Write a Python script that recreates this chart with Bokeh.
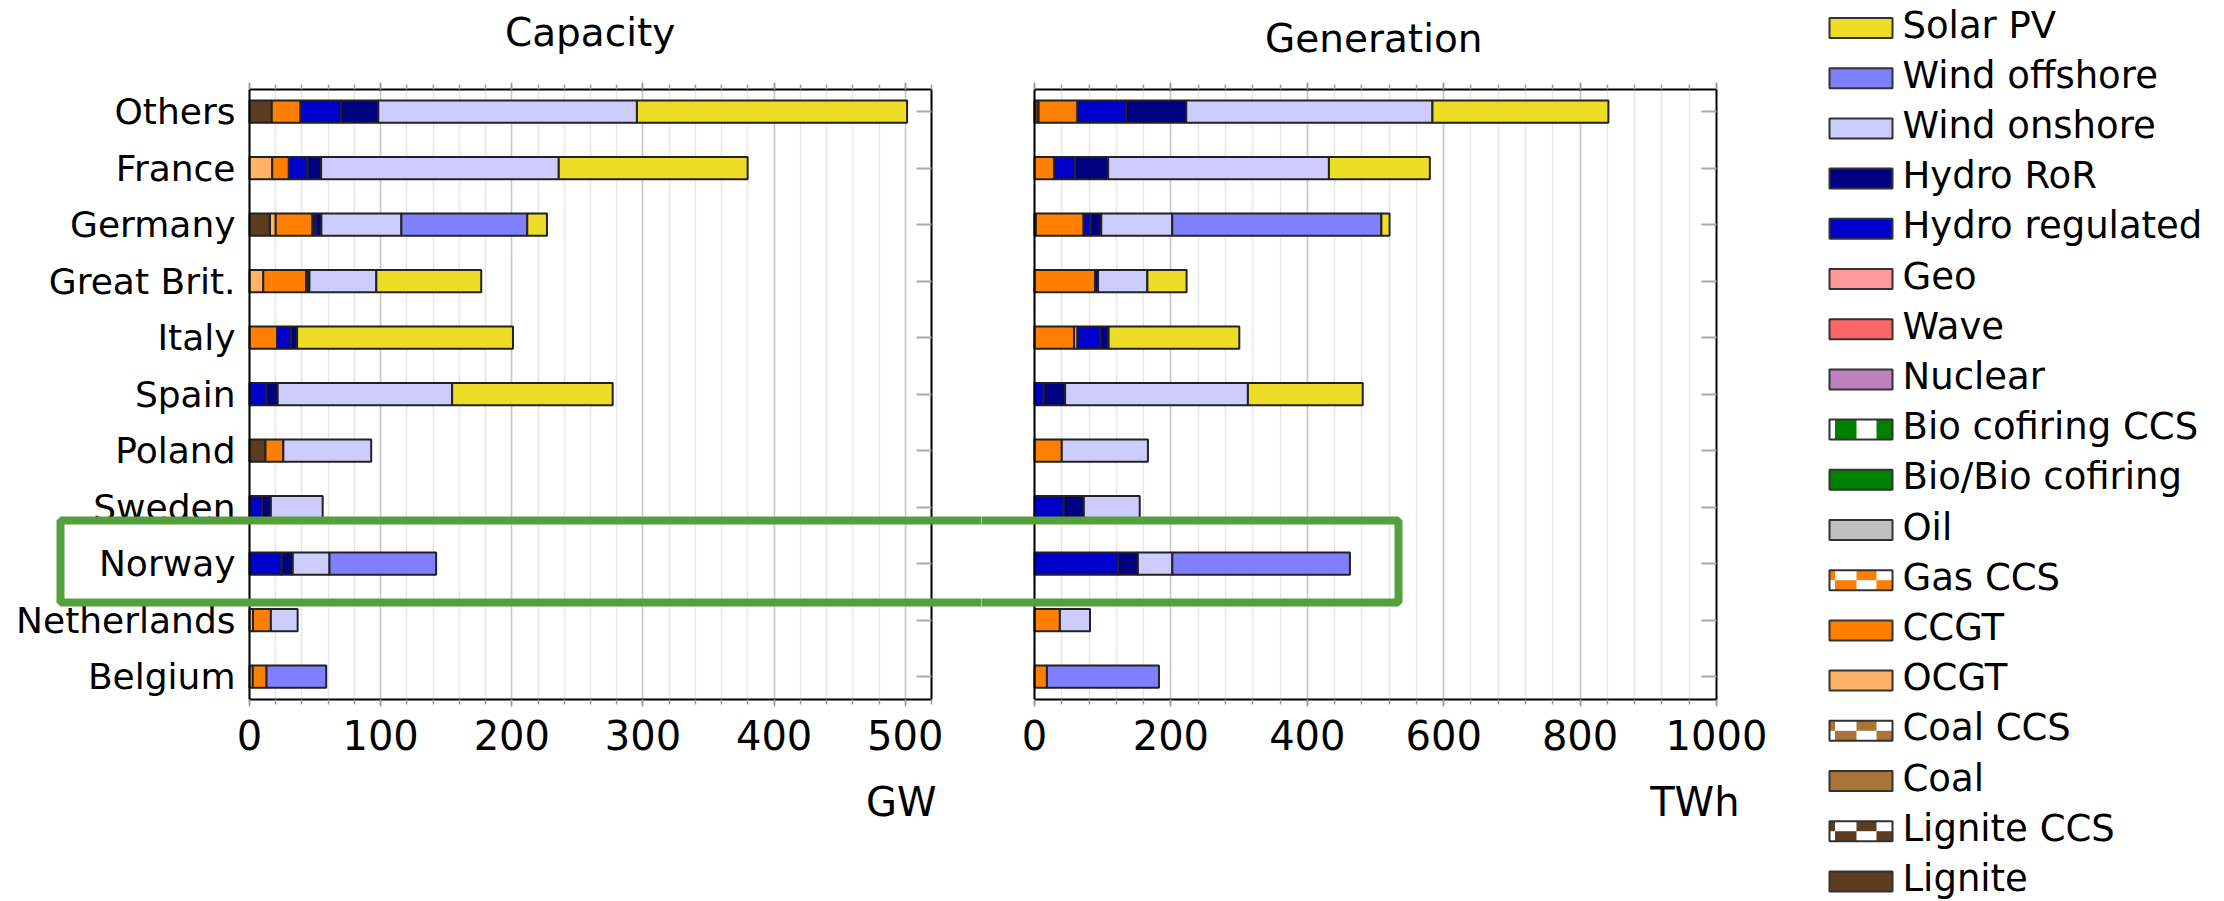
import numpy as np
from bokeh.plotting import figure
from bokeh.models import (ColumnDataSource, Range1d, FixedTicker, SingleIntervalTicker,
                          LinearAxis, BoxAnnotation, Title, Span)
from bokeh.layouts import row
from bokeh.embed import file_html
from bokeh.resources import INLINE
from bokeh.core.properties import value

# ---------------- data ----------------
countries = ["Others", "France", "Germany", "Great Brit.", "Italy", "Spain",
             "Poland", "Sweden", "Norway", "Netherlands", "Belgium"]

legend_techs = ["Solar PV", "Wind offshore", "Wind onshore", "Hydro RoR", "Hydro regulated",
                "Geo", "Wave", "Nuclear", "Bio cofiring CCS", "Bio/Bio cofiring", "Oil",
                "Gas CCS", "CCGT", "OCGT", "Coal CCS", "Coal", "Lignite CCS", "Lignite"]
legend_colors = ["#EEDD27", "#8080FF", "#CCCCFF", "#000080", "#0000CC",
                 "#FF9999", "#FF6666", "#BF80BF", "#008000", "#008000", "#C0C0C0",
                 "#FF8000", "#FF8000", "#FFB366", "#AA7339", "#AA7339", "#5C3D1F", "#5C3D1F"]
patterned = ["Bio cofiring CCS", "Gas CCS", "Coal CCS", "Lignite CCS"]

# Capacity (GW), countries order as above
cap_lignite = [17.0, 0, 15.6, 0, 0, 0, 12.2, 0, 0, 0, 0]
cap_ocgt = [0, 17.3, 4.4, 10.5, 0, 0, 0, 0, 0, 2.7, 2.5]
cap_ccgt = [21.9, 12.7, 28.0, 32.7, 21.0, 0, 13.6, 0, 0, 13.6, 10.5]
cap_hydro_reg = [30.8, 14.2, 2.4, 1.0, 10.5, 13.0, 0, 9.5, 24.5, 0, 0]
cap_hydro_ror = [28.5, 10.4, 4.4, 1.5, 4.8, 8.5, 0, 6.8, 8.5, 0, 0]
cap_wind_on = [197.2, 181.2, 61.0, 51.0, 0, 133.0, 67.0, 39.5, 28.0, 20.4, 0]
cap_wind_off = [0, 0, 96.0, 0, 0, 0, 0, 0, 81.3, 0, 45.5]
cap_solar = [206.0, 144.0, 15.0, 80.0, 164.6, 122.4, 0, 0, 0, 0, 0]

# Generation (TWh)
gen_lignite = [6.0, 0, 2.0, 0, 0, 0, 0, 0, 0, 0, 0]
gen_ccgt = [57.0, 28.8, 70.0, 89.0, 58.0, 0, 40.0, 0, 0, 37.2, 18.2]
gen_geo = [0, 0, 0, 0, 5.0, 0, 0, 0, 0, 0, 0]
gen_hydro_reg = [71.0, 30.8, 10.5, 0, 33.7, 13.3, 0, 42.8, 122.8, 0, 0]
gen_hydro_ror = [88.5, 48.4, 15.4, 4.2, 12.0, 31.6, 0, 29.5, 28.8, 0, 0]
gen_wind_on = [361.0, 323.7, 104.0, 72.3, 0, 268.0, 126.3, 82.0, 50.5, 44.2, 0]
gen_wind_off = [0, 0, 306.7, 0, 0, 0, 0, 0, 260.4, 0, 164.3]
gen_solar = [258.0, 148.0, 12.0, 57.5, 191.6, 168.4, 0, 0, 0, 0, 0]

capacity = {"Lignite": cap_lignite, "OCGT": cap_ocgt, "CCGT": cap_ccgt,
            "Hydro regulated": cap_hydro_reg, "Hydro RoR": cap_hydro_ror,
            "Wind onshore": cap_wind_on, "Wind offshore": cap_wind_off, "Solar PV": cap_solar}
generation = {"Lignite": gen_lignite, "CCGT": gen_ccgt, "Geo": gen_geo,
              "Hydro regulated": gen_hydro_reg, "Hydro RoR": gen_hydro_ror,
              "Wind onshore": gen_wind_on, "Wind offshore": gen_wind_off, "Solar PV": gen_solar}

# ---------------- layout constants (page pixels) ----------------
FONT = "DejaVu Sans"
H = 895
TOP = 89            # frame top
FH = 610            # frame height
YS, YE = -0.404, 10.392
GREEN = "#55A03C"
NBSP = "\u00a0"
color_of = dict(zip(legend_techs, legend_colors))
stack_order = legend_techs[::-1]
n = len(countries)
ypos = [n - 1 - i for i in range(n)]


def ydata(page_y):
    return YE - (page_y - TOP) / FH * (YE - YS)


def segments(data):
    y, left, right, col = [], [], [], []
    cum = np.zeros(n)
    for tech in stack_order:
        if tech not in data:
            continue
        vals = np.asarray(data[tech], dtype=float)
        for i, v in enumerate(vals):
            if v > 0:
                y.append(ypos[i]); left.append(cum[i]); right.append(cum[i] + v)
                col.append(color_of[tech])
        cum += vals
    return ColumnDataSource(dict(y=y, left=left, right=right, color=col))


def panel(title, title_standoff, data, xmax, major, page_left, width,
          zero_px, plot_px, br, fixed_right, unit, unit_offset, green_lr, labels):
    scale = xmax / plot_px
    frame_right_page = page_left + width - br
    x0 = (page_left - zero_px) * scale
    x1 = (frame_right_page - zero_px) * scale
    p = figure(width=width, height=H, x_range=Range1d(x0, x1), y_range=Range1d(YS, YE),
               output_backend="svg", toolbar_location=None, y_axis_location=None,
               min_border_left=0, min_border_right=br,
               min_border_top=TOP, min_border_bottom=H - TOP - FH)
    p.background_fill_color = "white"
    p.border_fill_color = "white"
    p.outline_line_color = None
    p.title.text = ""
    p.title.text_font_size = "1px"
    p.title.standoff = 0

    xt = SingleIntervalTicker(interval=major, num_minor_ticks=5)
    p.xgrid.ticker = xt
    p.xgrid.bounds = (0, xmax)
    p.xgrid.grid_line_color = "#c8c8c8"
    p.xgrid.grid_line_width = 1.5
    p.xgrid.minor_grid_line_color = "#e6e6e6"
    p.xgrid.minor_grid_line_width = 1.5
    p.ygrid.grid_line_color = None

    src = segments(data)
    p.hbar(y="y", left="left", right="right", height=0.395, fill_color="color",
           line_color="#222222", line_width=2, source=src)

    xa = p.xaxis[0]
    xa.ticker = xt
    xa.bounds = (0, xmax)
    xa.major_label_text_font = FONT
    xa.major_label_text_font_size = "40px"
    xa.major_label_text_color = "black"
    xa.major_label_standoff = 13
    xa.major_tick_out = 7; xa.major_tick_in = 0
    xa.minor_tick_out = 5; xa.minor_tick_in = 0
    xa.major_tick_line_color = "#999999"; xa.minor_tick_line_color = "#999999"
    xa.major_tick_line_width = 1.5; xa.minor_tick_line_width = 1.5
    xa.axis_line_color = "black"; xa.axis_line_width = 2

    # top axis: mirrored ticks, carries the panel title as its axis label
    top = LinearAxis(ticker=xt, bounds=(0, xmax), major_label_text_color=None,
                     major_label_text_font_size="1px", major_label_standoff=0,
                     major_tick_out=7, major_tick_in=0, minor_tick_out=5, minor_tick_in=0,
                     major_tick_line_color="#999999", minor_tick_line_color="#999999",
                     major_tick_line_width=1.5, minor_tick_line_width=1.5,
                     axis_line_color="black", axis_line_width=2,
                     axis_label=title, axis_label_text_font=FONT,
                     axis_label_text_font_size="39px", axis_label_text_font_style="normal",
                     axis_label_text_color="black", axis_label_standoff=title_standoff)
    p.add_layout(top, "above")

    right = LinearAxis(ticker=FixedTicker(ticks=ypos), major_label_text_color=None,
                       major_label_text_font_size="1px", major_label_standoff=0,
                       major_tick_in=15, major_tick_out=0, minor_tick_in=0, minor_tick_out=0,
                       major_tick_line_color="#aaaaaa", major_tick_line_width=2,
                       axis_line_color="black", axis_line_width=2)
    if fixed_right:
        right.fixed_location = xmax
    p.add_layout(right, "right")

    # left edge of the panel box
    p.add_layout(Span(location=0, dimension="height", line_color="black", line_width=2))

    if labels is not None:
        p.text(x=[0] * n, y=ypos, text=labels, x_offset=-14, text_align="right",
               text_baseline="middle", text_font=value(FONT), text_font_size=value("36px"),
               text_color="black")

    ut = Title(text=unit, align="right", text_font=FONT, text_font_size="40px",
               text_font_style="normal", text_color="black", offset=unit_offset, standoff=48)
    p.add_layout(ut, "below")

    gl, gr = green_lr
    gl_d = (gl - zero_px) * scale if gl is not None else x0 - 0.2 * (x1 - x0)
    gr_d = (gr - zero_px) * scale if gr is not None else x1 + 0.2 * (x1 - x0)
    p.add_layout(BoxAnnotation(left=gl_d, right=gr_d, top=ydata(520), bottom=ydata(602),
                               fill_color=None, fill_alpha=0, line_color=GREEN,
                               line_alpha=1.0, line_width=8, level="overlay"))
    return p


W1 = 981
# leading no-break spaces shift the centred label over the 0..max part of the frame
p1 = panel(NBSP * 16 + "Capacity", 28, capacity, 520, 100, 0, W1, 249, 682, 0, True,
           "GW", 45, (60, None), countries)
W2 = 795
p2 = panel(NBSP * 4 + "Generation", 22, generation, 1000, 200, W1, W2, 1034, 682, 60, False,
           "TWh", -23, (None, 1398), None)

# ---------------- legend ----------------
LEG_X = W1 + W2
LW = 2222 - LEG_X
LH = 901
leg = figure(width=LW, height=LH, x_range=Range1d(0, LW), y_range=Range1d(LH, 0),
             output_backend="svg", toolbar_location=None, x_axis_type=None, y_axis_type=None,
             min_border=0, min_border_left=0, min_border_right=0, min_border_top=0,
             min_border_bottom=0)
if "frame_align" in leg.properties():
    leg.frame_align = False
leg.outline_line_color = None
leg.background_fill_color = "white"
leg.border_fill_color = "white"

sx0 = 1829 - LEG_X
sw, sh = 63, 20
tx = 1902 - LEG_X
y0, dy = 27.5, 50.2
yc = [y0 + dy * i for i in range(len(legend_techs))]
base_fill = ["white" if t in patterned else c for t, c in zip(legend_techs, legend_colors)]
leg.quad(left=[sx0] * len(yc), right=[sx0 + sw] * len(yc),
         top=[y - sh / 2 for y in yc], bottom=[y + sh / 2 for y in yc],
         fill_color=base_fill, line_color=None)

cols = [(0, 5.5), (5.5, 27), (27, 47), (47, 63)]
bl_, br_, bt_, bb_, bc_ = [], [], [], [], []
for i, t in enumerate(legend_techs):
    if t not in patterned:
        continue
    c = legend_colors[i]
    if t == "Bio cofiring CCS":
        cells = [(1, None), (3, None)]
    else:
        cells = [(0, "t"), (2, "t"), (1, "b"), (3, "b")]
    for ci, half in cells:
        a, b = cols[ci]
        bl_.append(sx0 + a); br_.append(sx0 + b)
        if half is None:
            bt_.append(yc[i] - sh / 2); bb_.append(yc[i] + sh / 2)
        elif half == "t":
            bt_.append(yc[i] - sh / 2); bb_.append(yc[i])
        else:
            bt_.append(yc[i]); bb_.append(yc[i] + sh / 2)
        bc_.append(c)
leg.quad(left=bl_, right=br_, top=bt_, bottom=bb_, fill_color=bc_, line_color=None)

leg.quad(left=[sx0] * len(yc), right=[sx0 + sw] * len(yc),
         top=[y - sh / 2 for y in yc], bottom=[y + sh / 2 for y in yc],
         fill_color=None, line_color="#333333", line_width=2)
leg.text(x=[tx] * len(yc), y=[y - 3 for y in yc], text=legend_techs,
         text_font=value(FONT), text_font_size=value("37px"), text_baseline="middle",
         text_align="left", text_color="black")

layout = row(p1, p2, leg)
open("out.html", "w").write(file_html(layout, INLINE))
